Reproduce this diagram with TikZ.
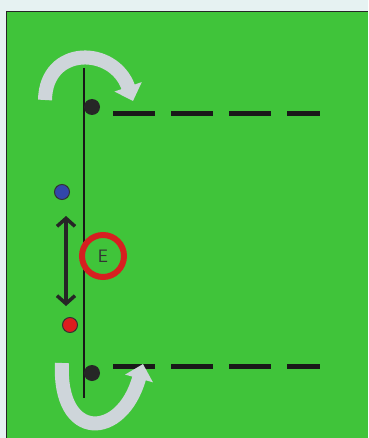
\documentclass[tikz,border=0pt]{standalone}
\usetikzlibrary{arrows.meta}
\definecolor{bgpale}{RGB}{230,242,242}
\definecolor{pitch}{RGB}{64,196,58}
\definecolor{ringred}{RGB}{214,32,32}
\definecolor{turngrey}{RGB}{206,213,218}
\definecolor{blueplayer}{RGB}{50,70,170}
\definecolor{redplayer}{RGB}{220,30,30}
\tikzset{
  player/.style={circle,inner sep=0pt,minimum size=15pt,draw=black!80,line width=1pt},
  coach/.style={circle,inner sep=0pt,minimum size=16pt,fill=black!85},
  dashline/.style={line width=5pt,dash pattern=on 42pt off 16pt,black!90},
  turnarrow/.style={line width=14pt,draw=turngrey,-{Triangle[width=28pt,length=15pt,fill=turngrey]}},
}
\begin{document}
\begin{tikzpicture}[x=1pt,y=-1pt]
\useasboundingbox (0,0) rectangle (368,438);
\fill[bgpale] (0,0) rectangle (368,438);
\fill[pitch] (6.5,11.5) rectangle (368,438);
\draw[line width=1.8pt,black!85] (6.5,438) -- (6.5,11.5) -- (368,11.5);
% vertical line
\coordinate (vtop) at (84,68);
\coordinate (vbot) at (84,398);
\draw[line width=2.6pt,black!90] (vtop) -- (vbot);
% coaches
\node[coach] (c1) at (92,107) {};
\node[coach] (c2) at (92,373) {};
% dashed lines
\coordinate (d1a) at (113,114);
\coordinate (d1b) at (320,114);
\coordinate (d2a) at (113,366);
\coordinate (d2b) at (320,366);
\draw[dashline] (d1a) -- (d1b);
\draw[dashline] (d2a) -- (d2b);
% players
\node[player,fill=blueplayer] (blue) at (62,192) {};
\node[player,fill=redplayer] (red) at (70,325) {};
% double arrow
\coordinate (a1) at (66,216);
\coordinate (a2) at (66,306);
\draw[line width=3.5pt,black!85,{Straight Barb[width=18pt,length=8pt]}-{Straight Barb[width=18pt,length=8pt]}] (a1) -- (a2);
% E ring
\node[circle,draw=ringred,line width=6pt,minimum size=42pt,inner sep=0pt,
      font=\sffamily\fontsize{18}{18}\selectfont,text=black!80] (E) at (103,256) {E};
% turning arrows
\coordinate (t1s) at (45,100);
\coordinate (t1e) at (133,101);
\draw[turnarrow] (t1s) .. controls (46,45) and (114,46) .. (t1e);
\coordinate (t2s) at (62,363);
\coordinate (t2e) at (143,364);
\draw[turnarrow] (t2s) .. controls (58,442) and (122,440) .. (t2e);
\end{tikzpicture}
\end{document}
